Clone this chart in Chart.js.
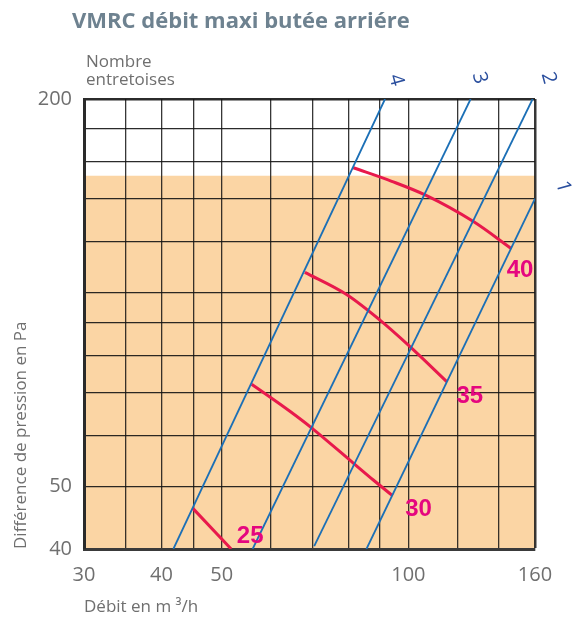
<!DOCTYPE html>
<html>
<head>
<meta charset="utf-8">
<script src="https://cdn.jsdelivr.net/npm/chart.js@4.4.0/dist/chart.umd.min.js"></script>
<style>
  html, body { margin: 0; padding: 0; background: #fff; }
  #wrap { width: 574px; height: 619px; }
</style>
</head>
<body>
<div id="wrap"><canvas id="chart" width="574" height="619"></canvas></div>
<script>
// Axis grid values and the ones that get a label
const xTicks = [30, 35, 40, 45, 50, 60, 70, 80, 90, 100, 120, 140, 160];
const xTickLabels = [30, 40, 50, 100, 160];
const yTicks = [40, 50, 60, 70, 80, 90, 100, 120, 140, 160, 180, 200];
const yTickLabels = [40, 50, 200];

// Upper limit of the orange zone (Pa)
const zoneTop = 152;

// Nombre entretoises lines: [débit m3/h, pression Pa]
const entretoiseNames = ["1", "2", "3", "4"];
const entretoise1 = [[85.6, 40], [160, 140]];
const entretoise2 = [[70.5, 40.4], [158.6, 200]];
const entretoise3 = [[56.1, 40], [126, 200]];
const entretoise4 = [[41.8, 40], [91.7, 200]];

// Curves (debit / pression)
const curveNames = ["25", "30", "35", "40"];
const curve25 = [[44.9, 46.3], [51.8, 40]];
const curve30 = [[55.9, 72.1], [64.5, 65.4], [69.8, 61.7], [81.5, 54.4], [87.8, 51.2], [94.3, 48.4]];
const curve35 = [[68.1, 107.6], [79.5, 99.4], [90, 90.7], [100.6, 82.5], [115.3, 72.8]];
const curve40 = [[81.5, 156.4], [94, 149], [106.4, 141.9], [127.3, 129], [146.4, 117.2]];

const BLUE = "#1b6fb6";
const RED = "#e8194c";
const MAGENTA = "#e5067f";

function toPoints(arr) {
  return arr.map((p) => ({ x: p[0], y: p[1] }));
}

const entretoises = [entretoise1, entretoise2, entretoise3, entretoise4];
const curves = [curve25, curve30, curve35, curve40];

const datasets = [];
entretoises.forEach((line, i) => {
  datasets.push({
    label: "entretoise " + entretoiseNames[i],
    data: toPoints(line),
    borderColor: BLUE,
    borderWidth: 1.8,
    pointRadius: 0,
    tension: 0,
  });
});
curves.forEach((c, i) => {
  datasets.push({
    label: curveNames[i],
    data: toPoints(c),
    borderColor: RED,
    borderWidth: 3,
    pointRadius: 0,
    cubicInterpolationMode: "monotone",
  });
});

// orange background zone + free texts
const decorPlugin = {
  id: "decor",
  beforeDraw(chart) {
    const { ctx, chartArea, scales } = chart;
    const top = scales.y.getPixelForValue(zoneTop);
    ctx.save();
    ctx.fillStyle = "#fbd5a4";
    ctx.fillRect(chartArea.left, top, chartArea.right - chartArea.left, chartArea.bottom - top);
    ctx.restore();
  },
  afterDraw(chart) {
    const ctx = chart.ctx;
    ctx.save();

    // title
    ctx.fillStyle = "#6e8290";
    ctx.font = "bold 22px 'Open Sans', sans-serif";
    ctx.textAlign = "left";
    ctx.textBaseline = "alphabetic";
    ctx.fillText("VMRC débit maxi butée arriére", 72, 28);

    // Nombre entretoises
    ctx.fillStyle = "#6f6f6f";
    ctx.font = "17px 'Open Sans', sans-serif";
    ctx.fillText("Nombre", 86, 67);
    ctx.fillText("entretoises", 86, 85);

    // numbers above the blue lines
    const numOffsets = [[28, -12], [16, -21], [9, -21], [11, -19]];
    ctx.fillStyle = "#2b4f9e";
    ctx.font = "20px 'Open Sans', sans-serif";
    ctx.textAlign = "center";
    ctx.textBaseline = "middle";
    entretoiseNames.forEach((name, i) => {
      const meta = chart.getDatasetMeta(i);
      const end = meta.data[meta.data.length - 1];
      ctx.save();
      ctx.translate(end.x + numOffsets[i][0], end.y + numOffsets[i][1]);
      ctx.rotate(1.3);
      ctx.fillText(name, 0, 0);
      ctx.restore();
    });

    // curve labels
    const lblOffsets = [[19, -13], [26, 14], [23, 15], [9, 22]];
    ctx.fillStyle = MAGENTA;
    ctx.font = "bold 24px 'Liberation Sans', Arial, sans-serif";
    curveNames.forEach((name, i) => {
      const meta = chart.getDatasetMeta(entretoises.length + i);
      const end = meta.data[meta.data.length - 1];
      ctx.fillText(name, end.x + lblOffsets[i][0], end.y + lblOffsets[i][1]);
    });

    ctx.restore();
  },
};

Chart.defaults.font.family = "'Open Sans', sans-serif";
Chart.defaults.color = "#6f6f6f";

const ctx = document.getElementById("chart").getContext("2d");
const chart = new Chart(ctx, {
  type: "line",
  data: { datasets: datasets },
  plugins: [decorPlugin],
  options: {
    responsive: false,
    animation: false,
    layout: { padding: { top: 99, right: 39, left: 0, bottom: 0 } },
    plugins: { legend: { display: false }, tooltip: { enabled: false } },
    scales: {
      x: {
        type: "logarithmic",
        min: 30,
        max: 160,
        afterBuildTicks: (axis) => {
          axis.ticks = xTicks.map((v) => ({ value: v }));
        },
        afterFit: (scale) => {
          scale.height = 70;
        },
        ticks: {
          autoSkip: false,
          maxRotation: 0,
          padding: 14,
          font: { size: 20 },
          color: "#6f6f6f",
          callback: (value) => (xTickLabels.includes(value) ? String(value) : ""),
        },
        grid: {
          drawTicks: false,
          color: "rgba(20,20,20,0.85)",
          lineWidth: (c) => (c.tick && c.tick.value === 160 ? 2.5 : 1.3),
        },
        border: { display: true, color: "#3a3a3a", width: 3 },
        title: {
          display: true,
          text: "Débit en m ³/h",
          align: "start",
          font: { size: 17 },
          color: "#6f6f6f",
          padding: { top: 0, bottom: 2 },
        },
      },
      y: {
        type: "logarithmic",
        min: 40,
        max: 200,
        afterBuildTicks: (axis) => {
          axis.ticks = yTicks.map((v) => ({ value: v }));
        },
        afterFit: (scale) => {
          scale.width = 84;
        },
        ticks: {
          autoSkip: false,
          padding: 12,
          font: { size: 20 },
          color: "#6f6f6f",
          callback: (value) => (yTickLabels.includes(value) ? String(value) : ""),
        },
        grid: {
          drawTicks: false,
          color: "rgba(20,20,20,0.9)",
          lineWidth: (c) => (c.tick && c.tick.value === 200 ? 2.5 : 1.3),
        },
        border: { display: true, color: "#2a2a2a", width: 3 },
        title: {
          display: true,
          text: "Différence de pression en Pa",
          align: "start",
          font: { size: 17 },
          color: "#6f6f6f",
          padding: { top: 11, bottom: 0 },
        },
      },
    },
  },
});
</script>
</body>
</html>
